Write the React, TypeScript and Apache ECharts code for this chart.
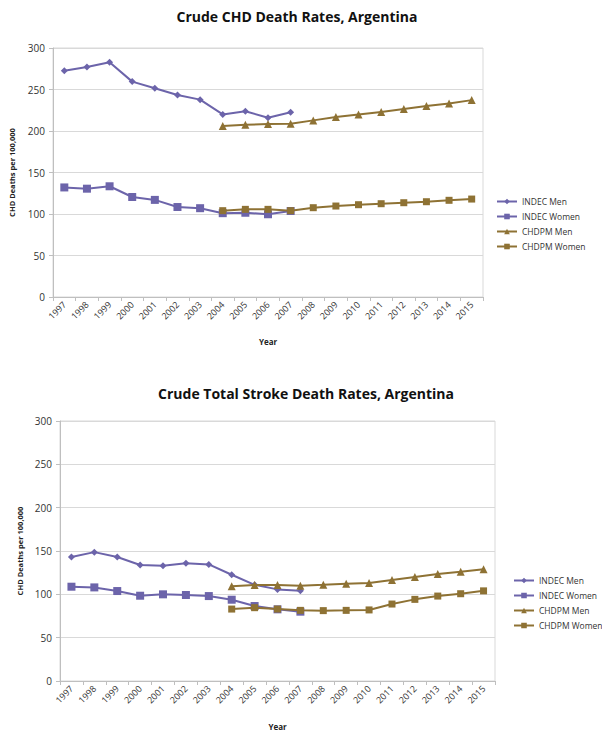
import React, { useEffect, useRef } from "react";
import * as echarts from "echarts";

const years = ["1997","1998","1999","2000","2001","2002","2003","2004","2005","2006","2007","2008","2009","2010","2011","2012","2013","2014","2015"];

const chdIndecMen = [272.7, 277, 282.8, 259.5, 251.5, 243.4, 237.8, 220, 223.7, 216, 222.5, null, null, null, null, null, null, null, null];
const chdIndecWomen = [132, 130.5, 133.4, 120.5, 117, 108.4, 107, 101, 101.5, 99.7, 103.6, null, null, null, null, null, null, null, null];
const chdChdpmMen = [null, null, null, null, null, null, null, 206, 207.6, 208.4, 208.8, 212.8, 216.8, 220, 223, 226.4, 230, 233.2, 237.2];
const chdChdpmWomen = [null, null, null, null, null, null, null, 104, 105.6, 105.6, 104, 107.6, 109.6, 111.2, 112.4, 113.6, 114.8, 116.5, 118];

const strokeIndecMen = [143, 148.7, 143, 133.8, 133, 136, 134.5, 122.6, 111, 105.7, 104, null, null, null, null, null, null, null, null];
const strokeIndecWomen = [108.8, 108, 103.8, 98.4, 100, 99.2, 98, 93.8, 86.5, 82.7, 80, null, null, null, null, null, null, null, null];
const strokeChdpmMen = [null, null, null, null, null, null, null, 109.2, 110.7, 110.7, 110, 111, 112.2, 113, 116.5, 120, 123.4, 126, 129];
const strokeChdpmWomen = [null, null, null, null, null, null, null, 83, 84.6, 83, 81.5, 81.2, 81.5, 82, 88.8, 94.2, 98, 100.7, 104];

const seriesNames = ["INDEC Men", "INDEC Women", "CHDPM Men", "CHDPM Women"];
const titles = ["Crude CHD Death Rates, Argentina", "Crude Total Stroke Death Rates, Argentina"];
const yName = "CHD Deaths per 100,000";
const xName = "Year";

const PURPLE = "#6C64AA";
const BROWN = "#8E7234";
const FONT = "'Open Sans', 'Liberation Sans', sans-serif";

export default function App() {
  const ref = useRef<HTMLDivElement>(null);
  useEffect(() => {
    document.body.style.margin = "0";
    const chart = echarts.init(ref.current!, null, { renderer: "svg" });
    const grids = [
      { left: 50, top: 48, width: 433, height: 249 },
      { left: 60, top: 421, width: 435, height: 260 },
    ];
    const mkX = (i: number, gap: number) => ({
      type: "category",
      gridIndex: i,
      data: years,
      boundaryGap: true,
      name: xName,
      nameLocation: "middle",
      nameGap: gap,
      nameTextStyle: { fontSize: 8, fontWeight: "bold", color: "#222", fontFamily: FONT },
      axisLine: { lineStyle: { color: "#bfbfbf" } },
      axisTick: { show: true, alignWithLabel: false, lineStyle: { color: "#bfbfbf" }, length: 4 },
      axisLabel: { rotate: 45, fontSize: 9, color: "#333", fontFamily: FONT, interval: 0, margin: 6 },
    });
    const mkY = (i: number, gap: number) => ({
      type: "value",
      gridIndex: i,
      min: 0,
      max: 300,
      interval: 50,
      name: yName,
      nameLocation: "middle",
      nameRotate: 90,
      nameGap: gap,
      nameTextStyle: { fontSize: 7.5, fontWeight: "bold", color: "#222", fontFamily: FONT },
      axisLine: { show: true, lineStyle: { color: "#bfbfbf" } },
      axisTick: { show: true, length: 4, lineStyle: { color: "#bfbfbf" } },
      axisLabel: { fontSize: 10, color: "#333", fontFamily: FONT, margin: 8 },
      splitLine: { lineStyle: { color: "#d9d9d9" } },
    });
    const datasets = [
      [chdIndecMen, chdIndecWomen, chdChdpmMen, chdChdpmWomen],
      [strokeIndecMen, strokeIndecWomen, strokeChdpmMen, strokeChdpmWomen],
    ];
    const symbols = ["diamond", "rect", "triangle", "rect"];
    const sizes = [7, 8, 8, 7];
    const colors = [PURPLE, PURPLE, BROWN, BROWN];
    const series: any[] = [];
    datasets.forEach((set, gi) => {
      set.forEach((d, si) => {
        series.push({
          type: "line",
          name: seriesNames[si],
          xAxisIndex: gi,
          yAxisIndex: gi,
          data: d,
          symbol: symbols[si],
          symbolSize: sizes[si],
          showAllSymbol: true,
          color: colors[si],
          lineStyle: { width: 2, color: colors[si] },
          itemStyle: { color: colors[si] },
          z: si >= 2 ? 3 : 2,
        });
      });
    });
    const mkLegend = (left: number, top: number) => ({
      orient: "vertical",
      left,
      top,
      padding: 0,
      itemWidth: 20,
      itemHeight: 7,
      itemGap: 6,
      data: seriesNames,
      textStyle: { fontSize: 8.5, color: "#333", fontFamily: FONT, overflow: "none", width: 80 },
    });
    chart.setOption({
      animation: false,
      backgroundColor: "#fff",
      title: [
        { text: titles[0], left: 292, top: 4, textAlign: "center", textStyle: { fontSize: 14, fontWeight: "bold", color: "#111", fontFamily: FONT } },
        { text: titles[1], left: 301, top: 381, textAlign: "center", textStyle: { fontSize: 14, fontWeight: "bold", color: "#111", fontFamily: FONT } },
      ],
      legend: [mkLegend(496, 197), mkLegend(513, 576)],
      grid: grids.map((g) => ({ ...g, show: true, borderColor: "#d9d9d9", borderWidth: 1, containLabel: false })),
      xAxis: [mkX(0, 40), mkX(1, 41)],
      yAxis: [mkY(0, 37), mkY(1, 34)],
      series,
    });
    return () => chart.dispose();
  }, []);
  return <div ref={ref} style={{ width: 602, height: 733 }} />;
}
